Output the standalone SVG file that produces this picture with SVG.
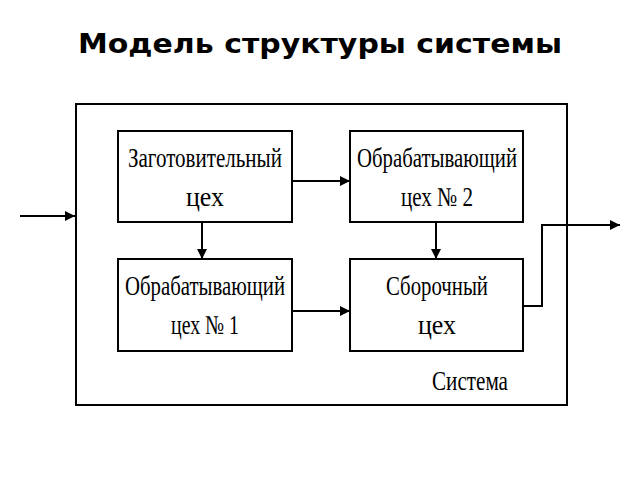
<svg xmlns="http://www.w3.org/2000/svg" width="640" height="480" viewBox="0 0 640 480">
<defs>
<style>
.b{fill:#fff;stroke:#000;stroke-width:2}
.t{font-family:"Liberation Serif",serif;font-size:27px;text-anchor:middle;fill:#000}
.c{fill:none;stroke:#000;stroke-width:2}
</style>
<marker id="a" viewBox="0 0 10 10" refX="10" refY="5" markerWidth="5" markerHeight="5" orient="auto"><path d="M0,0L10,5L0,10z"/></marker>
</defs>
<rect width="640" height="480" fill="#fff"/>
<text x="320" y="53" font-family="DejaVu Sans,sans-serif" font-weight="bold" font-size="26" text-anchor="middle" textLength="484" lengthAdjust="spacingAndGlyphs">Модель структуры системы</text>
<g id="system"><rect x="76" y="104" width="491" height="301" class="b"/>
<text class="t" x="470" y="390" textLength="76" lengthAdjust="spacingAndGlyphs">Система</text></g>
<g id="n1"><rect x="118" y="131" width="174" height="91" class="b"/>
<text class="t" x="205" y="167" textLength="154" lengthAdjust="spacingAndGlyphs">Заготовительный</text>
<text class="t" x="205" y="206" textLength="38" lengthAdjust="spacingAndGlyphs">цех</text></g>
<g id="n2"><rect x="350" y="131" width="173" height="91" class="b"/>
<text class="t" x="437" y="167" textLength="160" lengthAdjust="spacingAndGlyphs">Обрабатывающий</text>
<text class="t" x="437" y="206" textLength="72" lengthAdjust="spacingAndGlyphs">цех № 2</text></g>
<g id="n3"><rect x="118" y="259" width="174" height="92" class="b"/>
<text class="t" x="205" y="295" textLength="160" lengthAdjust="spacingAndGlyphs">Обрабатывающий</text>
<text class="t" x="205" y="334" textLength="68" lengthAdjust="spacingAndGlyphs">цех № 1</text></g>
<g id="n4"><rect x="350" y="259" width="173" height="92" class="b"/>
<text class="t" x="437" y="295" textLength="102" lengthAdjust="spacingAndGlyphs">Сборочный</text>
<text class="t" x="437" y="334" textLength="38" lengthAdjust="spacingAndGlyphs">цех</text></g>
<g id="connectors">
<path class="c" d="M20,216H75" stroke-width="3" marker-end="url(#a)"/>
<path class="c" d="M292,181H350" marker-end="url(#a)"/>
<path class="c" d="M292,311H350" marker-end="url(#a)"/>
<path class="c" d="M202,222V259" stroke-width="1.5" marker-end="url(#a)"/>
<path class="c" d="M436,222V259" stroke-width="1.5" marker-end="url(#a)"/>
<path class="c" d="M523,306H542V225H620" marker-end="url(#a)"/>
</g>
</svg>
